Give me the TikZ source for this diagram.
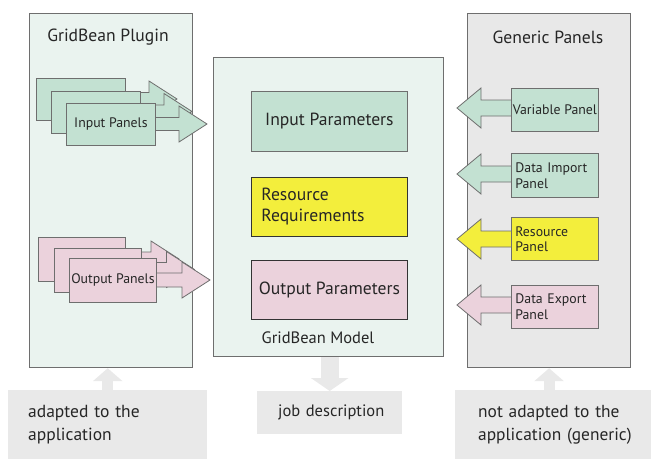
\documentclass[tikz,border=0pt]{standalone}
\usepackage{fontspec}
\setmainfont{PT Sans}
\usetikzlibrary{arrows.meta}

\definecolor{panelgreen}{HTML}{EAF3EF}
\definecolor{panelgray}{HTML}{E8E8E8}
\definecolor{ingreen}{HTML}{C3E1D2}
\definecolor{outpink}{HTML}{EBD2DC}
\definecolor{resyellow}{HTML}{F3EE3C}
\definecolor{notegray}{HTML}{E9E9E9}
\definecolor{edge}{HTML}{6E6E6E}

% block arrow: fill, start, base, tip, centre, shaft, head
\newcommand{\blockarrow}[7]{%
  \filldraw[fill=#1, draw=edge, line width=0.8pt]
    (#2,#5-#6) -- (#3,#5-#6) -- (#3,#5-#7) -- (#4,#5)
    -- (#3,#5+#7) -- (#3,#5+#6) -- (#2,#5+#6) -- cycle;}

\begin{document}
\begin{tikzpicture}[
  x=1pt, y=-1pt,
  every node/.style={inner sep=0pt, text=black!85},
  panel/.style={draw=edge, line width=1.2pt, anchor=north west},
  card/.style={draw=edge, line width=0.8pt, anchor=north west, align=center},
  title/.style={font=\fontsize{17.6}{21}\selectfont},
  small/.style={font=\fontsize{13.8}{16}\selectfont},
  note/.style={fill=notegray, anchor=north west, align=left,
    font=\fontsize{17.5}{23}\selectfont, minimum height=69pt},
  faint/.style={draw=notegray, line width=11pt, -{Triangle[width=29pt,length=13pt]}}
]
\useasboundingbox (0,0) rectangle (651,459);

% the three columns:
\node[panel, fill=panelgreen, minimum width=163pt, minimum height=354pt] (plugin) at (29,13) {};
\node[panel, fill=panelgreen, minimum width=230pt, minimum height=299pt] (model) at (213,57) {};
\node[panel, fill=panelgray, minimum width=163pt, minimum height=354pt] (generic) at (467,13) {};

\node[title] (plugintitle) at (108,37) {GridBean Plugin};
\node[title] (generictitle) at (548,37) {Generic Panels};
\node[title, font=\fontsize{16.5}{19}\selectfont] (modeltitle) at (318,338) {GridBean Model};

% stacked panels, arrow first then card on top
\foreach \k/\txt in {0/{},1/{},2/Input Panels} {
  \blockarrow{ingreen}{124+15*\k}{149+15*\k}{177+15*\k}{99+12.5*\k}{6.5}{18}
  \node[card, small, fill=ingreen, minimum width=89pt, minimum height=42pt] (in\k) at (36+15*\k,78+12.5*\k) {\txt};
}
\foreach \k/\txt in {0/{},1/{},2/Output Panels} {
  \blockarrow{outpink}{124+15.5*\k}{151+15.5*\k}{179+15.5*\k}{259+10.5*\k}{7}{18}
  \node[card, small, fill=outpink, minimum width=87pt, minimum height=44pt] (out\k) at (38+15.5*\k,237+10.5*\k) {\txt};
}

% model parameters
\node[card, title, fill=ingreen, minimum width=156pt, minimum height=60pt] (inparam) at (251,91) {Input Parameters};
\node[card, title, fill=resyellow, draw=black!80, minimum width=156pt, minimum height=59pt,
  align=left, text width=136pt, font=\fontsize{17.6}{21}\selectfont] (resreq) at (251,177) {Resource\\Requirements};
\node[card, title, fill=outpink, draw=black!80, minimum width=156pt, minimum height=59pt] (outparam) at (251,260) {Output Parameters};

% generic panels
\blockarrow{ingreen}{512}{481}{457}{108}{8}{20}
\blockarrow{ingreen}{512}{481}{457}{174}{8}{20}
\blockarrow{resyellow}{512}{481}{457}{239}{8}{20}
\blockarrow{outpink}{512}{481}{457}{305}{8}{20}
\node[card, small, fill=ingreen, minimum width=87pt, minimum height=43pt] (varpanel) at (511,88) {Variable Panel};
\node[card, small, fill=ingreen, minimum width=87pt, minimum height=44pt,
  align=left, text width=79pt, font=\fontsize{13.8}{16}\selectfont] (importpanel) at (511,153) {Data Import\\Panel};
\node[card, small, fill=resyellow, minimum width=87pt, minimum height=43pt,
  align=left, text width=79pt, font=\fontsize{13.8}{15}\selectfont] (respanel) at (511,217) {Resource\\Panel};
\node[card, small, fill=outpink, minimum width=87pt, minimum height=43pt,
  align=left, text width=79pt, font=\fontsize{13.8}{16}\selectfont] (exportpanel) at (511,285) {Data Export\\Panel};

% notes below
\node[note, minimum width=199pt, text width=159pt, inner xsep=20pt] (adapted) at (8,390) {adapted to the\\application};
\node[note, minimum width=145pt, minimum height=43pt, text width=125pt, inner xsep=10pt,
  font=\fontsize{16.5}{19}\selectfont] (jobdesc) at (257,391) {\hspace*{11pt}job description};
\node[note, minimum width=196pt, text width=160pt, inner xsep=18pt,
  font=\fontsize{17.4}{23}\selectfont] (notadapted) at (455,390) {\hspace*{5pt}not adapted to the\\\hspace*{5pt}application~(generic)};

\draw[faint] (adapted.north) -- (adapted.north |- plugin.south);
\draw[faint, line width=18pt, -{Triangle[width=37pt,length=13pt]}] (jobdesc.north |- model.south) -- (jobdesc.north);
\draw[faint] (generic.south |- notadapted.north) -- (generic.south);

\end{tikzpicture}
\end{document}
